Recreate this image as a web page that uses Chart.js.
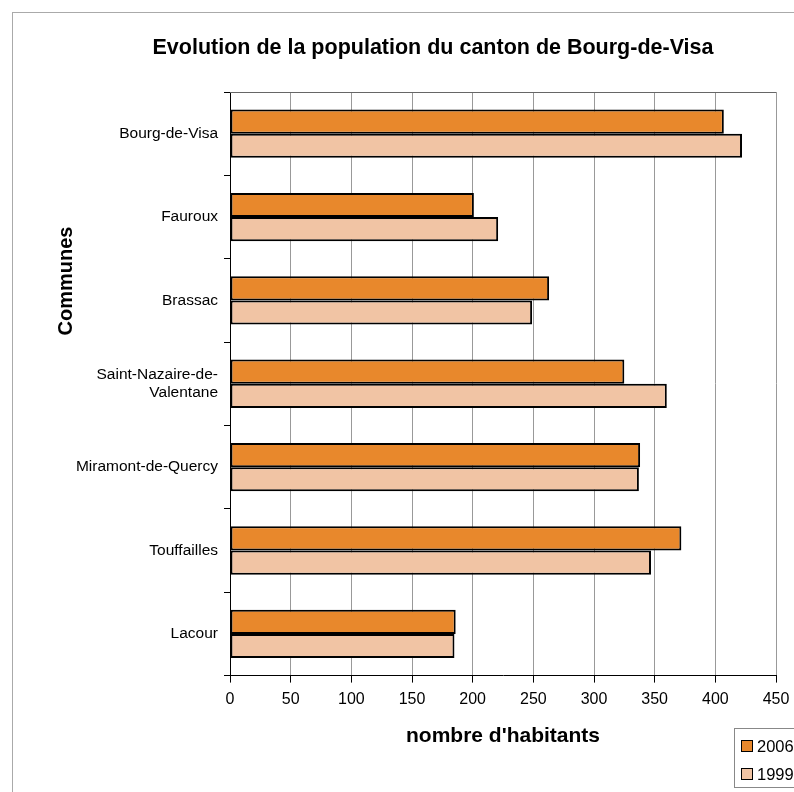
<!DOCTYPE html>
<html>
<head>
<meta charset="utf-8">
<script src="https://cdn.jsdelivr.net/npm/chart.js@4.4.0/dist/chart.umd.min.js"></script>
<style>
  body { margin: 0; overflow: hidden; background: #fff; }
  #frame { position: absolute; left: 12px; top: 12px; width: 900px; height: 900px; border: 1px solid #aaa; }
  #chart { position: absolute; left: 0; top: 0; }
</style>
</head>
<body>
<div id="frame"></div>
<canvas id="chart" width="866" height="792"></canvas>
<script>
// Data
const communes = ['Bourg-de-Visa', 'Fauroux', 'Brassac', ['Saint-Nazaire-de-', 'Valentane'], 'Miramont-de-Quercy', 'Touffailles', 'Lacour'];
const pop2006 = [407, 201, 263, 325, 338, 372, 186];
const pop1999 = [422, 221, 249, 360, 337, 347, 185];
const xMin = 0, xMax = 450, xStep = 50;
const chartTitle = 'Evolution de la population du canton de Bourg-de-Visa';

const FONT = 'Arial, "Liberation Sans", sans-serif';

// gray top border of the plot area
const plotBorder = {
    id: 'plotBorder',
    afterDraw(chart) {
        const { ctx, chartArea: a } = chart;
        ctx.save();
        ctx.strokeStyle = '#666';
        ctx.lineWidth = 1;
        ctx.beginPath();
        ctx.moveTo(a.left, a.top + 0.5);
        ctx.lineTo(a.right, a.top + 0.5);
        ctx.stroke();
        ctx.restore();
    }
};

// main title is centred on the whole frame, not on the plot
const frameTitle = {
    id: 'frameTitle',
    afterDraw(chart) {
        const ctx = chart.ctx;
        ctx.save();
        ctx.font = 'bold 21.5px ' + FONT;
        ctx.fillStyle = '#000';
        ctx.textAlign = 'center';
        ctx.textBaseline = 'middle';
        ctx.fillText(chartTitle, 433, 48);
        ctx.restore();
    }
};

// "Communes" title sits higher than the axis centre in the original
const yTitle = {
    id: 'yTitle',
    afterDraw(chart) {
        const ctx = chart.ctx;
        ctx.save();
        ctx.translate(66, 281);
        ctx.rotate(-Math.PI / 2);
        ctx.font = 'bold 20px ' + FONT;
        ctx.fillStyle = '#000';
        ctx.textAlign = 'center';
        ctx.textBaseline = 'middle';
        ctx.fillText('Communes', 0, 0);
        ctx.restore();
    }
};

// boxed legend at the bottom right, partly cut by the page edge
const boxLegend = {
    id: 'boxLegend',
    afterDraw(chart) {
        const ctx = chart.ctx;
        const x = 734, y = 728;
        ctx.save();
        ctx.strokeStyle = '#888';
        ctx.lineWidth = 1;
        ctx.strokeRect(x + 0.5, y + 0.5, 140, 59);
        ctx.font = '16.5px ' + FONT;
        ctx.textBaseline = 'middle';
        chart.data.datasets.forEach((ds, i) => {
            const cy = y + 18 + i * 28;
            ctx.fillStyle = ds.backgroundColor;
            ctx.fillRect(x + 7, cy - 6, 12, 12);
            ctx.strokeStyle = '#000';
            ctx.strokeRect(x + 7.5, cy - 5.5, 11, 11);
            ctx.fillStyle = '#000';
            ctx.fillText(ds.label, x + 23, cy + 1);
        });
        ctx.restore();
    }
};

new Chart(document.getElementById('chart'), {
    type: 'bar',
    data: {
        labels: communes,
        datasets: [{
            label: '2006',
            data: pop2006,
            backgroundColor: '#E8882C',
            borderColor: '#000',
            borderWidth: 2,
            borderSkipped: false
        }, {
            label: '1999',
            data: pop1999,
            backgroundColor: '#F1C4A4',
            borderColor: '#000',
            borderWidth: 2,
            borderSkipped: false
        }]
    },
    options: {
        indexAxis: 'y',
        responsive: false,
        animation: false,
        categoryPercentage: 0.58,
        barPercentage: 1.0,
        layout: { padding: { left: 0, right: 90, top: 92, bottom: 41 } },
        plugins: {
            legend: { display: false },
            tooltip: { enabled: false },
            title: { display: false }
        },
        scales: {
            x: {
                min: xMin,
                max: xMax,
                ticks: {
                    stepSize: xStep,
                    color: '#000',
                    font: { family: FONT, size: 16 },
                    padding: 7
                },
                grid: { color: '#999', tickColor: '#000', tickLength: 7 },
                border: { color: '#000', width: 1 },
                title: {
                    display: true,
                    text: "nombre d'habitants",
                    color: '#000',
                    font: { family: FONT, size: 21, weight: 'bold' },
                    padding: { top: 8, bottom: 2 }
                }
            },
            y: {
                afterFit(scale) { scale.width = 230; },
                ticks: {
                    color: '#000',
                    font: { family: FONT, size: 15.5 },
                    padding: 6
                },
                grid: { offset: true, drawOnChartArea: false, color: '#000', tickLength: 6 },
                border: { color: '#000', width: 1 }
            }
        }
    },
    plugins: [plotBorder, frameTitle, yTitle, boxLegend]
});
</script>
</body>
</html>
